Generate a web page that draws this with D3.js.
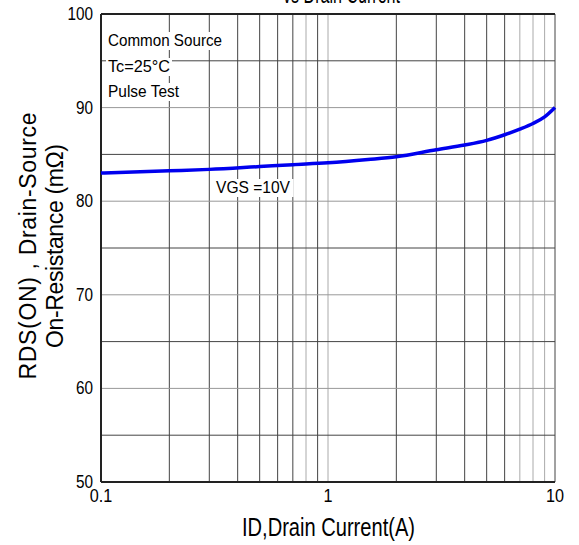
<!DOCTYPE html>
<html><head><meta charset="utf-8">
<script src="https://cdn.jsdelivr.net/npm/d3@7"></script>
<style>body{margin:0;background:#fff}svg{display:block}</style>
</head><body>
<svg id="c" width="579" height="545"></svg>
<script>
const currentA = [0.1, 0.2, 0.3, 0.5, 0.7, 1, 1.5, 2, 3, 4, 5, 6, 7, 8, 9, 10];
const rdsOn = [83.0, 83.25, 83.4, 83.7, 83.9, 84.1, 84.45, 84.75, 85.5, 86.0, 86.5, 87.1, 87.7, 88.3, 89.0, 90.0];
const xTicks = [0.1, 1, 10];
const xTickLabels = ["0.1", "1", "10"];
const yTicks = [50, 60, 70, 80, 90, 100];
const xGrid = [0.2,0.3,0.4,0.5,0.6,0.7,0.8,0.9,1,2,3,4,5,6,7,8,9,10];
const yGrid = [55,60,65,70,75,80,85,90,95];
const notes = ["Common Source", "Tc=25\u00B0C", "Pulse Test"];
const seriesLabel = "VGS =10V";

const FONT = "'Liberation Sans', Arial, sans-serif";
const svg = d3.select("#c");
const m = {l:101, r:555, t:14, b:482};
const x = d3.scaleLog().domain([0.1, 10]).range([m.l, m.r]);
const y = d3.scaleLinear().domain([50, 100]).range([m.b, m.t]);

function squeeze(sel, f) {
  sel.each(function(){
    const w = this.getComputedTextLength();
    d3.select(this).attr("textLength", w*f).attr("lengthAdjust","spacingAndGlyphs");
  });
}

const lightX = new Set([0.8, 1, 7, 8, 9]);
svg.append("g").selectAll("line").data(xGrid).join("line")
  .attr("x1", d=>x(d)).attr("x2", d=>x(d)).attr("y1", m.t).attr("y2", m.b)
  .attr("stroke", d=>lightX.has(d) ? "#aaa" : "#444").attr("stroke-width", 1);
svg.append("g").selectAll("line").data(yGrid).join("line")
  .attr("x1", m.l).attr("x2", m.r).attr("y1", d=>y(d)).attr("y2", d=>y(d))
  .attr("stroke", d=>d%10===0 ? "#999" : "#444").attr("stroke-width", 1);

// frame
const frame = svg.append("g").attr("stroke","#222").attr("stroke-width",2);
frame.append("line").attr("x1", m.l).attr("x2", m.r).attr("y1", m.t).attr("y2", m.t);
frame.append("line").attr("x1", m.l).attr("x2", m.r).attr("y1", m.b).attr("y2", m.b);
frame.append("line").attr("x1", m.l).attr("x2", m.l).attr("y1", m.t).attr("y2", m.b);

// tick labels
svg.append("g").selectAll("text").data(yTicks).join("text")
  .attr("x", m.l-8).attr("y", d=>y(d)+6).attr("text-anchor","end")
  .attr("font-family", FONT).attr("font-size", 18).text(d=>d)
  .call(squeeze, 0.85);
svg.append("g").selectAll("text").data(xTicks).join("text")
  .attr("x", d=>x(d)).attr("y", m.b+20).attr("text-anchor","middle")
  .attr("font-family", FONT).attr("font-size", 18).text((d,i)=>xTickLabels[i])
  .call(squeeze, 0.9);

// axis titles
svg.append("text").attr("x", 328.5).attr("y", 536).attr("text-anchor","middle")
  .attr("font-family", FONT).attr("font-size", 25).attr("textLength", 173).attr("lengthAdjust","spacingAndGlyphs")
  .text("ID,Drain Current(A)");
svg.append("text").attr("x", 341.5).attr("y", 3).attr("text-anchor","middle")
  .attr("font-family", FONT).attr("font-size", 25).attr("textLength", 117).attr("lengthAdjust","spacingAndGlyphs")
  .text("vs Drain Current");

const yl = svg.append("g").attr("transform","translate(0,246) rotate(-90)")
  .attr("font-family", FONT).attr("font-size", 23);
yl.append("text").attr("x",0).attr("y",36).attr("text-anchor","middle")
  .attr("textLength", 267).attr("lengthAdjust","spacing").text("RDS(ON) , Drain-Source");
yl.append("text").attr("x",0).attr("y",63).attr("text-anchor","middle")
  .attr("textLength", 204).attr("lengthAdjust","spacing").text("On-Resistance (m\u03A9)");

// notes with white backgrounds
const noteY = [46, 72, 97];
const noteW = [114, 62, 71];
const notesG = svg.append("g");
notes.forEach((t,i)=>{
  const g = notesG.append("g");
  const rect = g.append("rect").attr("fill","#fff");
  const tx = g.append("text").attr("x", 108).attr("y", noteY[i])
    .attr("font-family", FONT).attr("font-size", 17)
    .attr("textLength", noteW[i]).attr("lengthAdjust","spacingAndGlyphs").text(t);
  const bb = tx.node().getBBox();
  rect.attr("x", bb.x-2).attr("y", bb.y+1).attr("width", bb.width+4).attr("height", bb.height-1);
});
{
  const g = svg.append("g");
  const rect = g.append("rect").attr("fill","#fff");
  const tx = g.append("text").attr("x", 216).attr("y", 193)
    .attr("font-family", FONT).attr("font-size", 17)
    .attr("textLength", 74).attr("lengthAdjust","spacingAndGlyphs").text(seriesLabel);
  const bb = tx.node().getBBox();
  rect.attr("x", bb.x-3).attr("y", bb.y+1).attr("width", bb.width+6).attr("height", bb.height-1);
}

const line = d3.line().x((d,i)=>x(currentA[i])).y(d=>y(d)).curve(d3.curveMonotoneX);
svg.append("path").attr("d", line(rdsOn)).attr("fill","none").attr("stroke","#0000ee").attr("stroke-width",3.5);
</script>
</body></html>
